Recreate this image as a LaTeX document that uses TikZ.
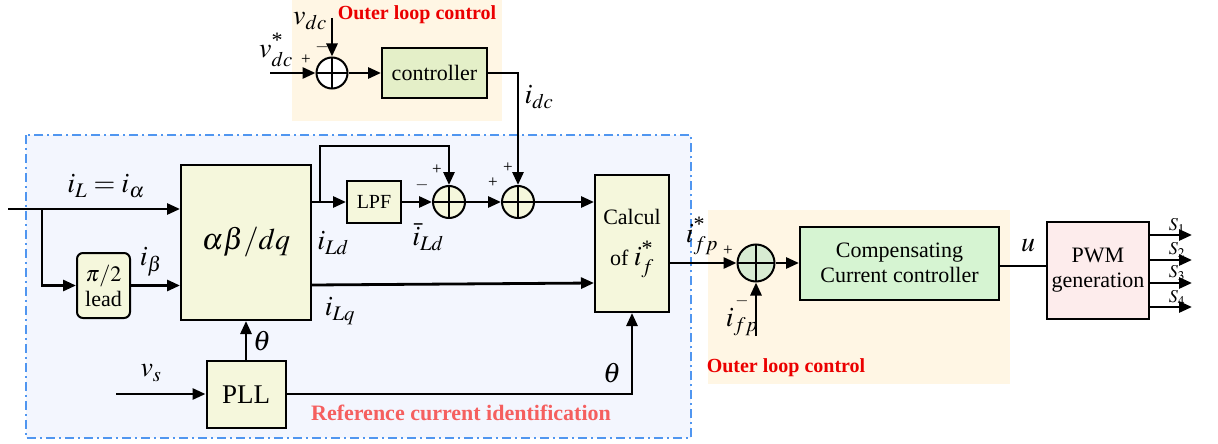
\documentclass[tikz,border=0pt]{standalone}
\usepackage{mathptmx}
\usepackage[no-math]{fontspec}
\setmainfont{Liberation Serif}
\usetikzlibrary{arrows.meta}
\definecolor{outerbg}{RGB}{255,246,228}
\definecolor{refbg}{RGB}{243,246,254}
\definecolor{dashblue}{RGB}{80,150,240}
\definecolor{yfill}{RGB}{245,247,220}
\definecolor{ctrlfill}{RGB}{228,239,200}
\definecolor{compfill}{RGB}{214,244,210}
\definecolor{pwmfill}{RGB}{253,236,236}
\definecolor{sgreen}{RGB}{215,235,210}
\definecolor{redA}{RGB}{235,0,0}
\definecolor{redB}{RGB}{245,95,95}
\newcommand{\bigstar}{\mbox{\fontsize{22}{22}\selectfont *}}
\begin{document}
\begin{tikzpicture}[x=1pt,y=-1pt,
  blk/.style={draw, line width=2pt, inner sep=0pt, align=center, font=\fontsize{22}{25}\selectfont},
  sumnode/.style={circle, draw, line width=2pt, inner sep=0pt, minimum size=#1,
    path picture={\draw[line width=1.6pt] (path picture bounding box.north) -- (path picture bounding box.south)
      (path picture bounding box.west) -- (path picture bounding box.east);}},
  arr/.style={line width=2.8pt, -{Triangle[length=13pt,width=11pt]}},
  ln/.style={line width=2.8pt},
  mlab/.style={inner sep=0pt, font=\fontsize{28}{30}\selectfont},
  sgn/.style={inner sep=0pt, font=\fontsize{17}{18}\selectfont},
  redlab/.style={inner sep=0pt, font=\fontsize{20}{22}\selectfont\bfseries}
]
\useasboundingbox (0,0) rectangle (1218,444);
% backgrounds
\fill[outerbg] (292,0) rectangle (502,121);
\filldraw[fill=refbg, draw=dashblue, line width=1.5pt, dash pattern=on 9pt off 4pt on 2pt off 4pt] (26,135) rectangle (691,438);
\fill[outerbg] (708,210) rectangle (1010,384);

% blocks
\node[blk, fill=ctrlfill, minimum width=105pt, minimum height=49pt] (ctrl) at (434.5,73) {controller};
\node[blk, fill=yfill, minimum width=130pt, minimum height=155pt, font=\fontsize{30}{32}\selectfont] (abdq) at (246,242.5) {$\alpha\beta/dq$};
\node[blk, fill=yfill, rounded corners=6pt, minimum width=53pt, minimum height=65pt] (lead) at (103.5,285.5) {$\pi/2$\\lead};
\node[blk, fill=yfill, minimum width=79pt, minimum height=67pt, font=\fontsize{27}{30}\selectfont] (pll) at (246,394.5) {PLL};
\node[blk, fill=yfill, minimum width=54pt, minimum height=42pt, font=\fontsize{20}{22}\selectfont] (lpf) at (374,202) {LPF};
\node[blk, fill=yfill, minimum width=74pt, minimum height=137pt] (calc) at (632,243.5) {Calcul\\[16pt]of {\fontsize{28}{30}\selectfont$i_f^{\bigstar}$}};
\node[blk, fill=compfill, minimum width=199pt, minimum height=73pt] (comp) at (899.5,263) {Compensating\\Current controller};
\node[blk, fill=pwmfill, minimum width=102pt, minimum height=97pt] (pwm) at (1098,270.5) {PWM\\generation};

% summing junctions
\node[sumnode=31pt, fill=white] (s0) at (332,73) {};
\node[sumnode=32pt, fill=yfill] (s1) at (449,202) {};
\node[sumnode=32pt, fill=yfill] (s2) at (518,202) {};
\node[sumnode=37pt, fill=sgreen] (s3) at (756,263) {};

% coordinates
\coordinate (vdctop) at (332,18);
\coordinate (vin) at (270,73);
\coordinate (iLin) at (8,209);
\coordinate (br1) at (42,209);
\coordinate (vsin) at (116,394);
\coordinate (brd) at (320,202);
\coordinate (ifpin) at (756,336);
\coordinate (o1) at (1192,235);
\coordinate (o2) at (1192,260);
\coordinate (o3) at (1192,283);
\coordinate (o4) at (1192,307);

% connectors
\draw[arr] (vdctop) -- (s0.north);
\draw[arr] (vin) -- (s0.west);
\draw[arr] (s0.east) -- (ctrl.west);
\draw[arr] (ctrl.east) -| (s2.north);
\draw[arr] (iLin) -- (iLin -| abdq.west);
\draw[arr] (br1) |- (lead.west);
\draw[arr] (lead.east) -- (lead.east -| abdq.west);
\draw[arr] (pll.north) -- (abdq.south);
\draw[arr] (vsin) -- (vsin -| pll.west);
\draw[arr] (pll.east |- vsin) -| (calc.south);
\draw[arr] (abdq.east |- lpf.west) -- (lpf.west);
\draw[arr] (lpf.east) -- (s1.west);
\draw[arr] (brd) -- ++(0,-56) -| (s1.north);
\draw[arr] (s1.east) -- (s2.west);
\draw[arr] (s2.east) -- (s2.east -| calc.west);
\draw[arr] (abdq.east |- 0,285) -- (calc.west |- 0,283);
\draw[arr] (calc.east |- s3.west) -- (s3.west);
\draw[arr] (ifpin) -- (s3.south);
\draw[arr] (s3.east) -- (comp.west);
\draw[ln] (comp.east |- 0,266) -- (pwm.west |- 0,266);
\draw[arr] (pwm.east |- o1) -- (o1);
\draw[arr] (pwm.east |- o2) -- (o2);
\draw[arr] (pwm.east |- o3) -- (o3);
\draw[arr] (pwm.east |- o4) -- (o4);

% labels
\node[mlab] (lvdc) at (310,21) {$v_{dc}$};
\node[redlab, text=redA] (lol1) at (417,15) {Outer loop control};
\node[mlab] (lvdcs) at (276,50) {$v^{\bigstar}_{dc}$};
\node[sgn] (p0) at (306,60) {+};
\node[sgn] (m0) at (322,47) {$-$};
\node[mlab] (lidc) at (539,97) {$i_{dc}$};
\node[mlab] (liL) at (106,186) {$i_L = i_\alpha$};
\node[mlab] (lib) at (151,262) {$i_\beta$};
\node[mlab] (lth1) at (262,341) {$\theta$};
\node[mlab] (lvs) at (151,373) {$v_s$};
\node[mlab] (liLd) at (333,243) {$i_{Ld}$};
\node[mlab] (lbiLd) at (428,237) {$\bar{i}_{Ld}$};
\node[mlab] (liLq) at (340,311) {$i_{Lq}$};
\node[sgn] (m1) at (422,185) {$-$};
\node[sgn] (p1) at (437,170) {+};
\node[sgn] (p2) at (493,183) {+};
\node[sgn] (p3) at (508,168) {+};
\node[mlab] (lth2) at (612,373) {$\theta$};
\node[mlab] (lifps) at (702,236) {$i^{\bigstar}_{fp}$};
\node[sgn] (p4) at (728,251) {+};
\node[mlab] (lifp) at (742,322) {$i_{fp}$};
\node[sgn] (m4) at (742,301) {$-$};
\node[mlab] (lu) at (1028,246) {$u$};
\node[inner sep=0pt, font=\fontsize{18}{20}\selectfont] (ls1) at (1177,226) {$S_1$};
\node[inner sep=0pt, font=\fontsize{18}{20}\selectfont] (ls2) at (1177,250) {$S_2$};
\node[inner sep=0pt, font=\fontsize{18}{20}\selectfont] (ls3) at (1177,273) {$S_3$};
\node[inner sep=0pt, font=\fontsize{18}{20}\selectfont] (ls4) at (1177,298) {$S_4$};
\node[redlab, text=redA] (lol2) at (786,368) {Outer loop control};
\node[redlab, text=redB, font=\fontsize{22}{24}\selectfont\bfseries] (lref) at (461,413) {Reference current identification};
\end{tikzpicture}
\end{document}
